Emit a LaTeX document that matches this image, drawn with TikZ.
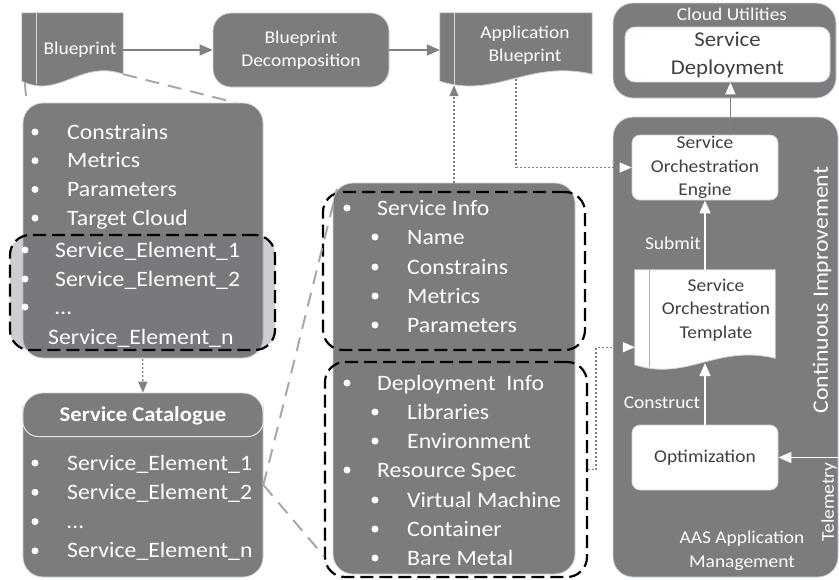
\documentclass[tikz,border=0pt]{standalone}
\usepackage{fontspec}
\setmainfont{Carlito}[FakeStretch=1.08]
\usetikzlibrary{arrows.meta,calc}

\definecolor{boxgray}{RGB}{124,124,124}
\definecolor{linegray}{RGB}{128,128,128}
\definecolor{zoomgray}{RGB}{168,168,168}
\definecolor{boxedge}{RGB}{200,212,226}
\definecolor{selgray}{RGB}{110,116,124}
\definecolor{darktext}{RGB}{64,64,64}

% document shape: node name, wave depth, style, strip colour
\newcommand{\docshape}[4]{%
  \draw[#3] (#1.north west) -- (#1.north east) -- (#1.south east)
    .. controls ($(#1.south east)!0.42!(#1.south west)+(0,-#2)$)
       and ($(#1.south west)!0.37!(#1.south east)+(0,1.67*#2)$)
    .. ($(#1.south west)+(0,0.47*#2)$) -- cycle;
  \draw[#4, line width=1pt] ($(#1.north west)+(15,0)$) -- ($(#1.south west)+(15,0.62*#2)$);
}

\tikzset{
  graybox/.style={draw=boxedge, line width=0.8pt, fill=boxgray, rounded corners=20pt, inner sep=0pt},
  whitebox/.style={draw=boxedge, line width=0.8pt, fill=white, rounded corners=8pt, inner sep=0pt,
    text=darktext, align=center, font=\fontsize{18}{23.5}\selectfont},
  dashbox/.style={draw=black, line width=2.2pt, dash pattern=on 13pt off 6pt, rounded corners=20pt, inner sep=0pt},
  lbl/.style={text=white, align=center, inner sep=0pt, font=\fontsize{18}{23.5}\selectfont},
  item/.style={text=white, anchor=west, inner sep=0pt, text height=14pt, text depth=0pt,
    font=\fontsize{22}{26}\selectfont},
  zoomline/.style={draw=zoomgray, line width=2pt, dash pattern=on 14pt off 9pt},
  flow/.style={draw=linegray, line width=1.6pt, -{Triangle[length=13pt, width=11pt]}},
  dotflow/.style={draw=linegray, line width=1.3pt, dash pattern=on 2pt off 2pt, -{Triangle[length=11pt, width=9pt]}},
  wtip/.style={-{Triangle[length=12pt, width=10pt, color=white]}},
  whiteflow/.style={draw=white, line width=1.6pt, -{Triangle[length=13pt, width=11pt]}}
}

\begin{document}
\begin{tikzpicture}[x=1pt, y=-1pt]
  \clip (0,0) rectangle (839,579);

  % top row
  \node[inner sep=0pt, minimum width=101pt, minimum height=61pt] (bp) at (72.5,43.5) {};
  \docshape{bp}{15}{draw=boxedge, line width=0.8pt, fill=boxgray}{white!70!gray}
  \node[lbl] (bptext) at (80,50) {Blueprint};

  \node[graybox, rounded corners=18pt, minimum width=176pt, minimum height=74pt, lbl] (bpd) at (301,50) {Blueprint\\Decomposition};

  \node[inner sep=0pt, minimum width=152pt, minimum height=61pt] (ab) at (516,43.5) {};
  \docshape{ab}{15}{draw=boxedge, line width=0.8pt, fill=boxgray}{white!70!gray}
  \node[lbl] (abtext) at (525,45) {Application\\Blueprint};

  \draw[flow] (bp.east |- bpd.west) -- (bpd.west);
  \draw[flow] (bpd.east) -- (ab.west |- bpd.east);

  % cloud utilities
  \node[graybox, minimum width=223pt, minimum height=95pt] (cloud) at (724.5,50.5) {};
  \node[lbl] (cloudlbl) at (732,14) {Cloud Utilities};
  \node[whitebox, rounded corners=10pt, minimum width=205pt, minimum height=55pt,
    font=\fontsize{21}{28}\selectfont] (deploy) at (727.5,54.5) {Service\\Deployment};

  % blueprint content
  \node[graybox, minimum width=240pt, minimum height=255pt] (lbox) at (143,230.5) {};
  \foreach \t [count=\i] in {Constrains, Metrics, Parameters, Target Cloud} {
    \fill[white] (35,{103.3+28.7*\i}) circle (3.5);
    \node[item] (lb-\i) at (67,{103.3+28.7*\i}) {\t};
  }
  \node[dashbox, fill=selgray, fill opacity=0.35, minimum width=265pt, minimum height=115pt] (lsel) at (142.5,292.5) {};
  \foreach \t/\y [count=\i] in {Service\_Element\_1/250, Service\_Element\_2/279, …/307} {
    \fill[white] (25,\y) circle (3.5);
    \node[item] (ls-\i) at (55,\y) {\t};
  }
  \node[item] (ls-n) at (48,337) {Service\_Element\_n};

  % service catalogue
  \node[graybox, minimum width=240pt, minimum height=184pt] (cat) at (143,485) {};
  \draw[white!80!gray, line width=1pt, rounded corners=16pt]
    ($(cat.north west)+(0,12)$) |- ($(cat.north east)+(0,44)$) -- ($(cat.north east)+(0,12)$);
  \node[text=white, inner sep=0pt, font=\bfseries\fontsize{21}{25}\selectfont] (cattitle) at (143,416) {Service Catalogue};
  \foreach \t [count=\i] in {Service\_Element\_1, Service\_Element\_2, …, Service\_Element\_n} {
    \fill[white] (35,{433.7+29.3*\i}) circle (3.5);
    \node[item] (ci-\i) at (67,{433.7+29.3*\i}) {\t};
  }

  % service element
  \node[graybox, minimum width=242pt, minimum height=391pt] (mid) at (454,378.5) {};
  \node[dashbox, minimum width=262pt, minimum height=158pt] (sinfo) at (454,271) {};
  \node[dashbox, minimum width=262pt, minimum height=215pt] (dinfo) at (456,469.5) {};
  \foreach \t/\lv/\y [count=\i] in {Service Info/0/208, Name/1/237, Constrains/1/267, Metrics/1/296,
      Parameters/1/325, Deployment\ \ Info/0/383, Libraries/1/412, Environment/1/441,
      Resource Spec/0/470, Virtual Machine/1/500, Container/1/529, Bare Metal/1/558} {
    \fill[white] ({347+28*\lv},\y) circle (3.5);
    \node[item] (mi-\i) at ({377+30*\lv},\y) {\t};
  }

  % zoom lines
  \draw[zoomline] ($(bp.south west)+(3,8)$) -- ($(lbox.north west)+(4,0)$);
  \draw[zoomline] (bp.south east) -- ($(lbox.north east)+(-28,0)$);
  \draw[zoomline] (cat.east) -- ($(sinfo.north west)+(15,-2)$);
  \draw[zoomline] (cat.east) -- ($(dinfo.south west)+(0,-22)$);

  % AAS application management
  \node[graybox, minimum width=225pt, minimum height=460pt] (aas) at (725.5,347) {};
  \node[whitebox, minimum width=146pt, minimum height=65pt] (eng) at (705,167.5) {Service\\Orchestration\\Engine};
  \node[inner sep=0pt, minimum width=140pt, minimum height=88pt] (sot) at (705,314) {};
  \docshape{sot}{14}{draw=boxedge, line width=0.8pt, fill=white}{gray!60}
  \node[lbl, text=darktext] (sottext) at (716,310) {Service\\Orchestration\\Template};
  \node[whitebox, minimum width=146pt, minimum height=65pt] (opt) at (705,457.5) {Optimization};
  \node[lbl] (aastext) at (742,551) {AAS Application\\Management};
  \node[lbl, font=\fontsize{22}{26}\selectfont, rotate=90] (cimp) at (822,290) {Continuous Improvement};
  \node[lbl, rotate=90] (tel) at (829,502) {Telemetry};

  \draw[whiteflow] (sot.north) -- (eng.south);
  \node[lbl] (submit) at (673,243) {Submit};
  \draw[whiteflow] (opt.north) -- ($(sot.south)+(0,5)$);
  \node[lbl] (construct) at (662,403) {Construct};
  \coordinate (telin) at (839,457.5);
  \draw[whiteflow] (telin) -- (opt.east);

  \coordinate (engtop) at ($(eng.north east)+(-48,0)$);
  \draw[draw=linegray, line width=1.6pt, wtip] (engtop) -- (engtop |- deploy.south);

  % dotted links
  \coordinate (abin) at ($(ab.south west)+(13,11)$);
  \coordinate (sotleft) at ($(sot.south west)+(0,-11)$);
  \draw[dotflow] (mid.north) -- (mid.north |- abin);
  \draw[dotflow, wtip] ($(ab.south)+(0,5)$) |- (eng.west);
  \draw[dotflow, wtip] (dinfo.east) -- ++(8,0) |- (sotleft);
  \draw[dotflow] (lsel.south) -- (cat.north);
\end{tikzpicture}
\end{document}
